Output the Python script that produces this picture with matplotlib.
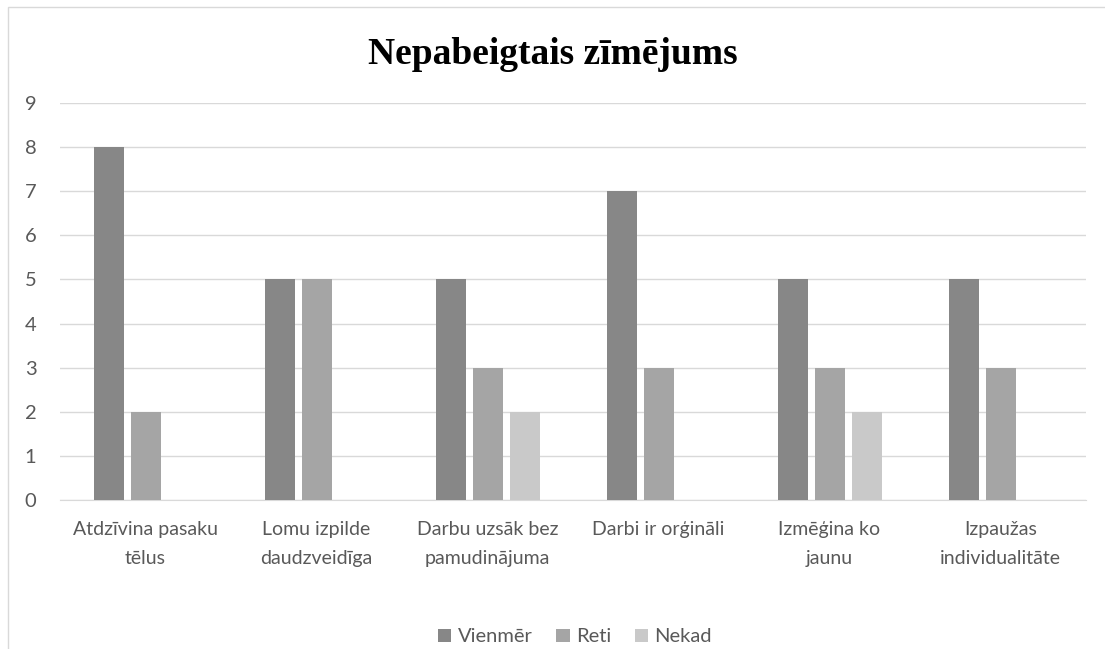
import numpy as np
import matplotlib.pyplot as plt
from matplotlib.patches import Rectangle

categories = ["Atdzīvina pasaku\ntēlus", "Lomu izpilde\ndaudzveidīga", "Darbu uzsāk bez\npamudinājuma",
              "Darbi ir orģināli", "Izmēģina ko\njaunu", "Izpaužas\nindividualitāte"]
vienmer = [8, 5, 5, 7, 5, 5]
reti = [2, 5, 3, 3, 3, 3]
nekad = [0, 0, 2, 0, 2, 0]
series_names = ["Vienmēr", "Reti", "Nekad"]
colors = ["#878787", "#a5a5a5", "#c9c9c9"]

plt.rcParams['font.family'] = ['Lato', 'DejaVu Sans']

fig = plt.figure(figsize=(11.05, 6.49), dpi=100)
fig.patches.append(Rectangle((8 / 1105, -0.1), 1.2, 1 - 7 / 649 + 0.1, transform=fig.transFigure,
                             fill=False, edgecolor="#d9d9d9", linewidth=1))
ax = fig.add_axes([60 / 1105, 1 - 500 / 649, (1086 - 60) / 1105, (500 - 103) / 649])

x = np.arange(len(categories))
w = 30 / 171
step = 37 / 171
for k, (vals, name, c) in enumerate(zip([vienmer, reti, nekad], series_names, colors)):
    ax.bar(x + (k - 1) * step, vals, width=w, color=c, label=name, zorder=3)

ax.set_xlim(-0.5, len(categories) - 0.5)
ax.set_ylim(0, 9)
ax.set_yticks(range(0, 10))
ax.set_xticks(x)
ax.set_xticklabels(categories, fontsize=14, color="#595959", linespacing=1.85)
ax.tick_params(axis="y", labelsize=14.5, labelcolor="#595959", length=0, pad=17)
ax.tick_params(axis="x", length=0, pad=15)
ax.grid(axis="y", color="#d9d9d9", linewidth=1, zorder=0)
for s in ["top", "right", "left"]:
    ax.spines[s].set_visible(False)
ax.spines["bottom"].set_color("#d9d9d9")

fig.text(0.5, 1 - 54 / 649, "Nepabeigtais zīmējums", ha="center", va="center",
         fontsize=27, fontweight="bold", family="Liberation Serif")

leg = fig.legend(loc="center", bbox_to_anchor=(575 / 1105, 1 - 637 / 649), ncol=3, frameon=False,
                 fontsize=14.5, handlelength=0.65, handleheight=0.65, handletextpad=0.3, columnspacing=1.2,
                 borderpad=0.2)
for t in leg.get_texts():
    t.set_color("#595959")

fig.savefig("out.png", dpi=100)
